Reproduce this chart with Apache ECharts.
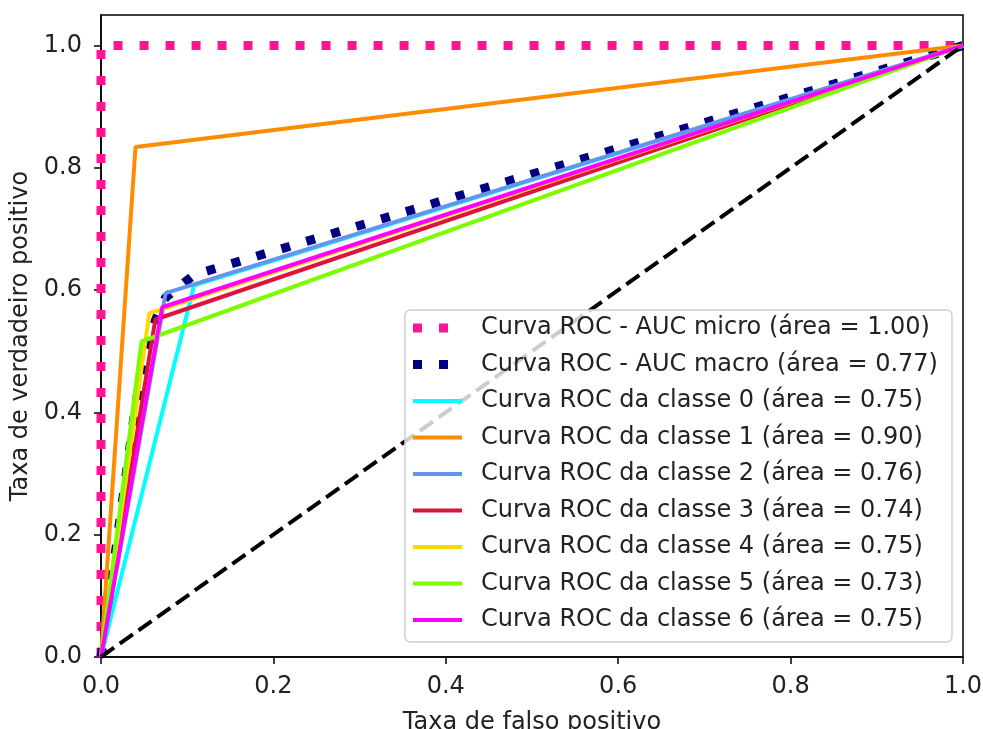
<!DOCTYPE html>
<html>
<head>
<meta charset="utf-8">
<script src="https://cdn.jsdelivr.net/npm/echarts@6/dist/echarts.min.js"></script>
<style>
html,body{margin:0;padding:0;background:#fff;}
#chart{width:983px;height:729px;}
</style>
</head>
<body>
<div id="chart"></div>
<script>
// ---- data ----
const seriesNames = [
  'Curva ROC - AUC micro (área = 1.00)',
  'Curva ROC - AUC macro (área = 0.77)',
  'Curva ROC da classe 0 (área = 0.75)',
  'Curva ROC da classe 1 (área = 0.90)',
  'Curva ROC da classe 2 (área = 0.76)',
  'Curva ROC da classe 3 (área = 0.74)',
  'Curva ROC da classe 4 (área = 0.75)',
  'Curva ROC da classe 5 (área = 0.73)',
  'Curva ROC da classe 6 (área = 0.75)'
];
const microFpr = [0, 0, 1];
const microTpr = [0, 1, 1];
const macroFpr = [0, 0.040, 0.047, 0.056, 0.063, 0.071, 0.075, 0.108, 1];
const macroTpr = [0, 0.41, 0.47, 0.515, 0.55, 0.578, 0.588, 0.625, 1];
const class0Fpr = [0, 0.108, 1], class0Tpr = [0, 0.608, 1];
const class1Fpr = [0, 0.040, 1], class1Tpr = [0, 0.834, 1];
const class2Fpr = [0, 0.075, 1], class2Tpr = [0, 0.595, 1];
const class3Fpr = [0, 0.063, 1], class3Tpr = [0, 0.552, 1];
const class4Fpr = [0, 0.056, 1], class4Tpr = [0, 0.562, 1];
const class5Fpr = [0, 0.047, 1], class5Tpr = [0, 0.516, 1];
const class6Fpr = [0, 0.071, 1], class6Tpr = [0, 0.572, 1];
const chanceFpr = [0, 1];
const chanceTpr = [0, 1];
const yTickValues = [0, 0.2, 0.4, 0.6, 0.8, 1.0];

// ---- styles ----
const colors = ['#FF1493', '#000080', '#00FFFF', '#FF8C00', '#6495ED', '#DC143C', '#FFD700', '#7CFC00', '#FF00FF'];
const pairs = (xs, ys) => xs.map((x, i) => [x, ys[i]]);
const allData = [
  pairs(microFpr, microTpr), pairs(macroFpr, macroTpr),
  pairs(class0Fpr, class0Tpr), pairs(class1Fpr, class1Tpr), pairs(class2Fpr, class2Tpr),
  pairs(class3Fpr, class3Tpr), pairs(class4Fpr, class4Tpr), pairs(class5Fpr, class5Tpr),
  pairs(class6Fpr, class6Tpr)
];
const FONT = 'DejaVu Sans';
const FS = 24;
const DOT_ICON = 'path://M0,0.5h9v9h-9zM26,0.5h9v9h-9zM48.98,0h0.02v0.02h-0.02zM48.98,9.98h0.02v0.02h-0.02z';
const LINE_ICON = 'path://M0,3h49v4h-49zM48.98,0h0.02v0.02h-0.02zM48.98,9.98h0.02v0.02h-0.02z';
const series = allData.map((d, i) => {
  const dotted = i < 2;
  return {
    name: seriesNames[i], type: 'line', data: d, symbol: 'none', animation: false,
    lineStyle: dotted ? {color: colors[i], width: 9, type: [9, 17], cap: 'butt'}
                      : {color: colors[i], width: 4},
    itemStyle: {color: colors[i]}
  };
});
series.push({
  name: 'chance', type: 'line', data: pairs(chanceFpr, chanceTpr), symbol: 'none', animation: false,
  lineStyle: {color: '#000', width: 4, type: [16, 7], cap: 'butt'}
});

const chart = echarts.init(document.getElementById('chart'), null, {renderer: 'canvas'});
chart.setOption({
  backgroundColor: '#fff',
  animation: false,
  grid: {left: 101, right: 20, top: 15, bottom: 72, outerBoundsMode: 'none', containLabel: false,
         show: true, borderColor: '#000', borderWidth: 1.5, backgroundColor: 'transparent'},
  xAxis: {
    type: 'value', min: 0, max: 1, interval: 0.2,
    name: 'Taxa de falso positivo', nameLocation: 'middle', nameGap: 54,
    nameTextStyle: {fontFamily: FONT, fontSize: FS, color: '#222'},
    axisLine: {show: true, onZero: false, lineStyle: {color: '#000', width: 1.5}},
    axisTick: {show: true, length: 7, lineStyle: {color: '#000', width: 1.5}},
    axisLabel: {fontFamily: FONT, fontSize: FS, color: '#222', margin: 18, formatter: v => v.toFixed(1)},
    splitLine: {show: false}
  },
  yAxis: {
    type: 'value', min: 0, max: 1.05, interval: 0.2,
    name: 'Taxa de verdadeiro positivo', nameLocation: 'middle', nameGap: 66,
    nameTextStyle: {fontFamily: FONT, fontSize: FS, color: '#222'},
    axisLine: {show: true, onZero: false, lineStyle: {color: '#000', width: 1.5}},
    axisTick: {show: true, length: 7, lineStyle: {color: '#000', width: 1.5}, customValues: yTickValues},
    axisLabel: {fontFamily: FONT, fontSize: FS, color: '#222', margin: 19, customValues: yTickValues, formatter: v => v.toFixed(1)},
    splitLine: {show: false}
  },
  legend: {
    orient: 'vertical', left: 405, top: 310,
    padding: [4.5, 14, 8.5, 8],
    backgroundColor: 'rgba(255,255,255,0.8)', borderColor: '#d0d0d0', borderWidth: 1.5, borderRadius: 5,
    itemWidth: 49, itemHeight: 10, itemGap: 9.5,
    textStyle: {fontFamily: FONT, fontSize: FS, color: '#222', lineHeight: 27, padding: [0, 0, 0, 14]},
    data: seriesNames.map((n, i) => ({
      name: n,
      icon: i < 2 ? DOT_ICON : LINE_ICON,
      itemStyle: {color: colors[i], borderWidth: 0}
    }))
  },
  series: series
});
</script>
</body>
</html>
